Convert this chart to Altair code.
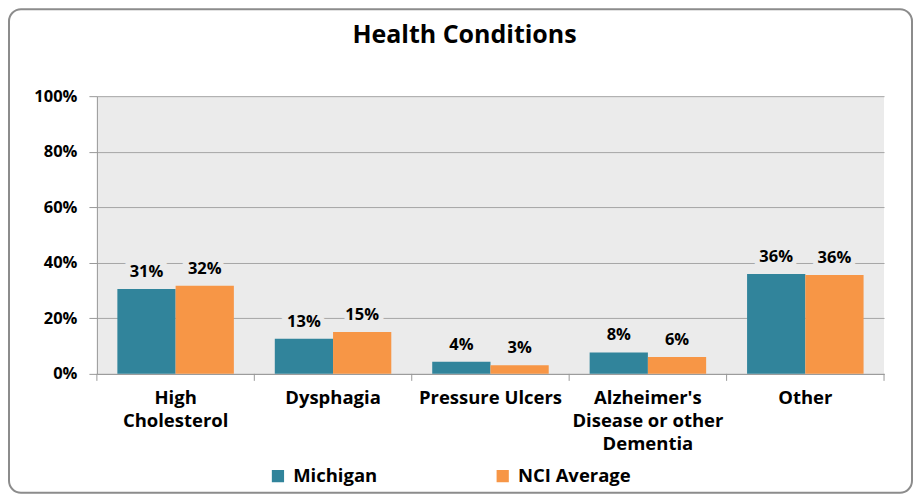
import altair as alt
import pandas as pd

title_text = "Health Conditions"
categories = ["High Cholesterol", "Dysphagia", "Pressure Ulcers",
              "Alzheimer's Disease or other Dementia", "Other"]
series = ["Michigan", "NCI Average"]
michigan = [0.306, 0.126, 0.044, 0.077, 0.360]
nci_average = [0.317, 0.151, 0.031, 0.061, 0.356]
colors = ["#31849B", "#F79646"]

rows = []
for c, m, n in zip(categories, michigan, nci_average):
    rows.append({"category": c, "series": series[0], "value": m})
    rows.append({"category": c, "series": series[1], "value": n})
df = pd.DataFrame(rows)

FONT = "Open Sans"
BG = "#EBEBEB"
W, H = 788, 278

label_expr = (
    'datum.label == "High Cholesterol" ? ["High", "Cholesterol"] : '
    'datum.label == "Alzheimer\'s Disease or other Dementia" ? ["Alzheimer\'s", "Disease or other", "Dementia"] : '
    'datum.label'
)

x_enc = alt.X(
    "category:N", sort=categories,
    scale=alt.Scale(paddingInner=0.26, paddingOuter=0.13),
    axis=alt.Axis(title=None, labelAngle=0, labelFontSize=18.5, labelFontWeight="bold",
                  labelColor="black", labelExpr=label_expr, labelLineHeight=23,
                  labelPadding=15, ticks=False, domainColor="#999999",
                  labelLimit=400),
)
y_enc = alt.Y(
    "value:Q", scale=alt.Scale(domain=[0, 1]),
    axis=alt.Axis(title=None, values=[0, 0.2, 0.4, 0.6, 0.8, 1.0], format=".0%",
                  labelFontSize=16.5, labelFontWeight="bold", labelColor="black",
                  gridColor="#A6A6A6", domainColor="#999999", tickColor="#999999",
                  tickSize=8, labelPadding=12),
)

base = alt.Chart(df)

bars = base.mark_bar().encode(
    x=x_enc, y=y_enc,
    xOffset=alt.XOffset("series:N", sort=series),
    color=alt.Color("series:N", sort=series,
                    scale=alt.Scale(domain=series, range=colors),
                    legend=alt.Legend(title=None, orient="none", legendX=172, legendY=371,
                                      direction="horizontal", symbolType="square",
                                      symbolSize=150, symbolStrokeWidth=0,
                                      labelFontSize=18.5, labelFontWeight="bold",
                                      labelColor="black", columnPadding=116,
                                      labelOffset=6)),
)

LABEL_SIZE = 16.5
halo = base.mark_text(baseline="bottom", dy=-9, fontSize=LABEL_SIZE, fontWeight="bold",
                      color=BG, stroke=BG, strokeWidth=10).encode(
    x=alt.X("category:N", sort=categories),
    xOffset=alt.XOffset("series:N", sort=series),
    y="value:Q",
    text=alt.Text("value:Q", format=".0%"),
)
labels = base.mark_text(baseline="bottom", dy=-9, fontSize=LABEL_SIZE, fontWeight="bold",
                        color="black").encode(
    x=alt.X("category:N", sort=categories),
    xOffset=alt.XOffset("series:N", sort=series),
    y="value:Q",
    text=alt.Text("value:Q", format=".0%"),
)

cat_df = pd.DataFrame({"category": categories})
ticks = alt.Chart(cat_df).mark_rule(color="#999999", xOffset=-20.5).encode(
    x=alt.X("category:N", sort=categories, bandPosition=0),
    y=alt.value(H), y2=alt.value(H + 7),
)
end_tick = alt.Chart(pd.DataFrame({"a": [0]})).mark_rule(color="#999999").encode(
    x=alt.value(W), y=alt.value(H), y2=alt.value(H + 7),
)
border = alt.Chart(pd.DataFrame({"a": [0]})).mark_rect(
    fillOpacity=0, stroke="#8C8C8C", strokeWidth=2, cornerRadius=12).encode(
    x=alt.value(-88), x2=alt.value(816), y=alt.value(-87), y2=alt.value(397),
)
title = alt.Chart(pd.DataFrame({"t": [title_text]})).mark_text(
    fontSize=25, fontWeight="bold", color="black", baseline="middle", align="center").encode(
    x=alt.value(368), y=alt.value(-61), text="t:N",
)

chart = alt.layer(border, title, bars, halo, labels, ticks, end_tick).properties(
    width=W, height=H, padding=0,
).configure(font=FONT).configure_view(fill=BG, stroke=None)

chart.save("out.html", embed_options={"renderer": "svg", "actions": False})
